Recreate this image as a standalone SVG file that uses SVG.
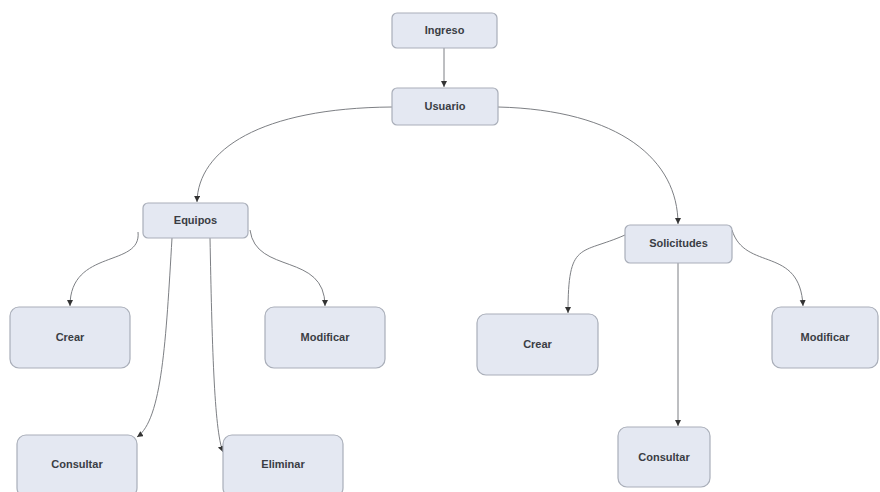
<svg xmlns="http://www.w3.org/2000/svg" width="880" height="492" viewBox="0 0 880 492">
<style>
.n rect{fill:#e4e8f2;stroke:#a9aeb9;stroke-width:1.2}
.n text{font-family:"Liberation Sans",Arial,sans-serif;font-weight:bold;font-size:11px;fill:#3a3d44;text-anchor:middle;dominant-baseline:middle}
.c path{fill:none;stroke:#7d7f84;stroke-width:1;marker-end:url(#ah)}
</style>
<defs>
<marker id="ah" markerWidth="8" markerHeight="8" refX="6" refY="3" orient="auto" markerUnits="userSpaceOnUse">
<path d="M0,0 L6,3 L0,6 Z" fill="#333"/>
</marker>
</defs>
<rect width="880" height="492" fill="#ffffff"/>
<g class="c">
<path d="M444,48 L444,87"/>
<path d="M392,107 C 260,108 198,150 197,202"/>
<path d="M498,107 C 620,110 678,160 678,224"/>
<path d="M138,232 C 142,268 70,248 70,306"/>
<path d="M250,230 C 256,275 325,252 325,306"/>
<path d="M172,238 C 166,340 162,420 137,437"/>
<path d="M210,238 C 212,340 214,430 223,452"/>
<path d="M625,235 C 580,255 568,240 568,313"/>
<path d="M732,230 C 745,272 800,245 803,306"/>
<path d="M678,263 L678,426"/>
</g>
<g id="ingreso" class="n"><rect x="392" y="13" width="105" height="35" rx="5"/><text x="444.5" y="31">Ingreso</text></g>
<g id="usuario" class="n"><rect x="392" y="88" width="106" height="37" rx="5"/><text x="445" y="107">Usuario</text></g>
<g id="equipos" class="n"><rect x="143" y="203" width="105" height="35" rx="5"/><text x="195.5" y="221">Equipos</text></g>
<g id="solicitudes" class="n"><rect x="625" y="225" width="107" height="38" rx="5"/><text x="678.5" y="244">Solicitudes</text></g>
<g id="crear1" class="n"><rect x="10" y="307" width="120" height="61" rx="9"/><text x="70" y="338">Crear</text></g>
<g id="modificar1" class="n"><rect x="265" y="307" width="120" height="61" rx="9"/><text x="325" y="338">Modificar</text></g>
<g id="consultar1" class="n"><rect x="17" y="435" width="120" height="62" rx="9"/><text x="77" y="465">Consultar</text></g>
<g id="eliminar" class="n"><rect x="223" y="435" width="120" height="62" rx="9"/><text x="283" y="465">Eliminar</text></g>
<g id="crear2" class="n"><rect x="477" y="314" width="121" height="61" rx="9"/><text x="537.5" y="345">Crear</text></g>
<g id="modificar2" class="n"><rect x="772" y="307" width="106" height="61" rx="9"/><text x="825" y="338">Modificar</text></g>
<g id="consultar2" class="n"><rect x="618" y="427" width="92" height="60" rx="9"/><text x="664" y="458">Consultar</text></g>
</svg>
